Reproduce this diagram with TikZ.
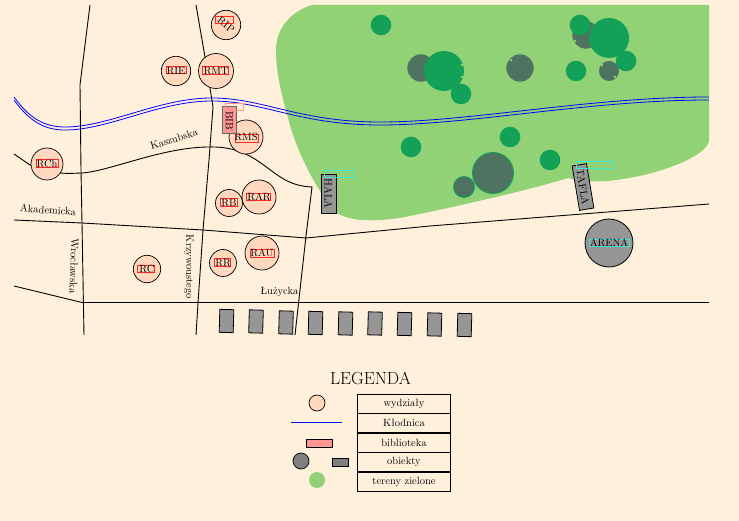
\documentclass[tikz,border=0pt]{standalone}
\usepackage{tikz}
\usetikzlibrary{positioning}
\definecolor{tlo}{HTML}{FFF0DC}
\definecolor{trawa}{HTML}{92D277}
\definecolor{drzewo}{HTML}{13A158}
\definecolor{ciemne}{HTML}{4E7360}
\definecolor{wydzial}{HTML}{FFD8BE}
\definecolor{szary}{HTML}{969696}
\definecolor{rozowy}{HTML}{FF9696}
\definecolor{morski}{HTML}{40E8D0}
\begin{document}
\begin{tikzpicture}[x=1pt,y=-1pt,
		font=\fontsize{10.5}{12}\selectfont,
		road/.style={draw,line width=0.9pt},
		river/.style={draw=blue,line width=0.8pt},
		faculty/.style={circle,draw,fill=wydzial,inner sep=0pt,line width=0.7pt},
		tag/.style={draw=red!85,line width=0.5pt,inner sep=0pt},
		tagcyan/.style={draw=morski,line width=0.7pt,inner sep=0pt},
		building/.style={draw,fill=szary,inner sep=0pt,line width=0.8pt},
		streetname/.style={inner sep=0pt},
		legendrow/.style={draw,line width=0.8pt,minimum width=93pt,minimum height=18.7pt,inner sep=0pt}
		]
	\useasboundingbox (0,0) rectangle (739,521);
	\fill[tlo] (0,0) rectangle (739,521);

	% tereny zielone
	\fill[trawa] (312,5) -- (709,5) -- (709,140)
		.. controls (709,155) and (660,176) .. (607,181)
		.. controls (590,182) and (578,181) .. (568,178)
		.. controls (530,190) and (450,208) .. (400,218)
		.. controls (370,222) and (350,221) .. (337,213)
		.. controls (320,195) and (300,160) .. (290,125)
		.. controls (280,90) and (276,70) .. (276,50)
		.. controls (276,25) and (295,10) .. (312,5) -- cycle;
	\foreach \x/\y/\r in {493/173/21,464/187/11}
		\fill[drzewo] (\x,\y) circle[radius=\r];
	\foreach \x/\y/\r in {421/68/13.7,520/68/13.7,586/35/13.7,609/71/10,493/173/20,464/187/10}
		\fill[ciemne] (\x,\y) circle[radius=\r];
	\foreach \x/\y/\r in {381/25/10.3,444/71/20,461/94/10.3,580/25/10.3,609/38/20,626/61/10.3,576/71/10.3,510/137/10.3,411/147/10.3,550/160/10.3}
		\fill[drzewo] (\x,\y) circle[radius=\r];
	\foreach \x/\y in {462/65,462/77,511/60,602/65,615/77,575/41}
		\fill[trawa] (\x,\y) circle[radius=1.3];

	% Klodnica
	\foreach \s in {0,3}
		\draw[river,yshift=\s] (14,100) .. controls (30,122) and (45,130) .. (65,130)
			.. controls (110,130) and (160,100) .. (215,101)
			.. controls (265,102) and (300,125) .. (380,125)
			.. controls (470,125) and (590,100) .. (709,100);

	% ulice
	\draw[road] (90,5) -- (80,85) -- (81,170) -- (82,223) -- (84,335);
	\draw[road] (196,5) -- (205,57) -- (210,88) -- (213,107) -- (209,160) -- (203,230) -- (198,303) -- (196,335);
	\draw[road] (14,154) -- (30,165) -- (47,170) .. controls (60,175) and (75,173) .. (82,173)
		.. controls (110,171) and (160,148) .. (207,147)
		.. controls (235,146) and (250,155) .. (265,166)
		.. controls (280,177) and (290,186) .. (312,187) -- (306,236) -- (295,335);
	\draw[road] (14,220) -- (82,223) -- (203,230) -- (306,238) -- (430,226) -- (709,204);
	\draw[road] (14,286) -- (82,302.5) -- (709,302.5);

	% wydzialy
	\node[faculty,minimum size=29.4pt] (RIP) at (226,25) {};
	\node[tag,minimum width=18pt,minimum height=7pt] (tagRIP) at (224,19.5) {};
	\node[rotate=-38,inner sep=0pt] (txtRIP) at (RIP) {RIP};
	\node[faculty,minimum size=29.4pt] (RIE) at (176,71) {};
	\node[tag,minimum width=20pt,minimum height=7pt] (tagRIE) at (176,69.5) {};
	\node[inner sep=0pt] (txtRIE) at (RIE) {RIE};
	\node[faculty,minimum size=35pt] (RMT) at (216,71) {};
	\node[tag,minimum width=26pt,minimum height=8pt] (tagRMT) at (215,70) {};
	\node[inner sep=0pt] (txtRMT) at (RMT) {RMT};
	\node[faculty,minimum size=34pt] (RMS) at (246,137) {};
	\node[tag,minimum width=23pt,minimum height=7.6pt] (tagRMS) at (246.5,138) {};
	\node[inner sep=0pt] (txtRMS) at (RMS) {RMS};
	\node[faculty,minimum size=32pt] (RCh) at (47,164) {};
	\node[tag,minimum width=22pt,minimum height=8pt] (tagRCh) at (47,163) {};
	\node[inner sep=0pt] (txtRCh) at (RCh) {RCh};
	\node[faculty,minimum size=27pt] (RB) at (229,203) {};
	\node[tag,minimum width=17pt,minimum height=7.6pt] (tagRB) at (228.5,202) {};
	\node[inner sep=0pt] (txtRB) at (RB) {RB};
	\node[faculty,minimum size=34pt] (RAR) at (259,197) {};
	\node[tag,minimum width=24pt,minimum height=7.4pt] (tagRAR) at (258,196.5) {};
	\node[inner sep=0pt] (txtRAR) at (RAR) {RAR};
	\node[faculty,minimum size=34pt] (RAU) at (262,253) {};
	\node[tag,minimum width=24pt,minimum height=7.6pt] (tagRAU) at (262,253) {};
	\node[inner sep=0pt] (txtRAU) at (RAU) {RAU};
	\node[faculty,minimum size=27pt] (RR) at (223,263) {};
	\node[tag,minimum width=16pt,minimum height=7.6pt] (tagRR) at (222,262) {};
	\node[inner sep=0pt] (txtRR) at (RR) {RR};
	\node[faculty,minimum size=27.4pt] (RC) at (147,269) {};
	\node[tag,minimum width=16.6pt,minimum height=7.4pt] (tagRC) at (146,269) {};
	\node[inner sep=0pt] (txtRC) at (RC) {RC};

	% biblioteka
	\node[draw=black!60,fill=rozowy,line width=1pt,minimum width=14pt,minimum height=27pt,inner sep=0pt] (BIBbox) at (229.5,120.5) {};
	\node[rotate=-90,inner sep=0pt] (BIB) at (BIBbox) {BIB};
	\node[draw=rozowy,line width=0.9pt,minimum width=18pt,minimum height=7pt,inner sep=0pt] (tagBIB) at (234,106.5) {};

	% obiekty
	\node[building,minimum width=15pt,minimum height=39pt] (HALAbox) at (328.5,193.5) {};
	\node[rotate=-90,inner sep=0pt] (HALA) at (HALAbox) {HALA};
	\node[tagcyan,minimum width=29pt,minimum height=7pt] (tagHALA) at (338.5,173.5) {};
	\node[building,rotate=-80.5,minimum width=45pt,minimum height=14.5pt] (TAFLA) at (583,187) {TAFLA};
	\node[tagcyan,minimum width=36pt,minimum height=7pt] (tagTAFLA) at (594,164.5) {};
	\node[building,circle,minimum size=48pt] (ARENA) at (609,243) {};
	\node[tagcyan,minimum width=40pt,minimum height=7pt] (tagARENA) at (609,242.5) {};
	\node[inner sep=0pt] (txtARENA) at (ARENA) {ARENA};
	\foreach \x/\y [count=\i] in {226.5/321,256/321.5,286/322.5,315.5/323,345.5/323.5,375/323.5,404.5/324,434.5/324.5,464.5/325}
		\node[building,rotate=-1.5,minimum width=14pt,minimum height=23pt] (hall\i) at (\x,\y) {};

	% nazwy ulic
	\node[streetname,rotate=17] (Kaszubska) at (174,139) {Kaszubska};
	\node[streetname,rotate=-4] (Akademicka) at (48,210) {Akademicka};
	\node[streetname,rotate=-92] (Wroclawska) at (74,266) {Wroc\l{}awska};
	\node[streetname,rotate=-90] (Krzywoustego) at (189,267) {Krzywoustego};
	\node[streetname] (Luzycka) at (279.5,291.5) {\L{}u\.zycka};

	% legenda
	\node[inner sep=0pt,font=\fontsize{17.5}{20}\selectfont] (legendtitle) at (370.5,378) {LEGENDA};
	\node[legendrow] (row1) at (404,403.7) {wydzia\l{}y};
	\node[legendrow,below=0pt of row1] (row2) {K\l{}odnica};
	\node[legendrow,below=0pt of row2] (row3) {biblioteka};
	\node[legendrow,below=0pt of row3] (row4) {obiekty};
	\node[legendrow,below=0pt of row4] (row5) {tereny zielone};
	\node[faculty,minimum size=16pt] (symfaculty) at (317,403) {};
	\coordinate (riverL) at (291,422);
	\coordinate (riverR) at (342,422);
	\draw[river] (riverL) -- (riverR);
	\node[draw,fill=rozowy,line width=0.8pt,minimum width=26pt,minimum height=8pt,inner sep=0pt] (symlib) at (319,443) {};
	\node[draw,circle,fill=black!50,line width=0.7pt,minimum size=16pt,inner sep=0pt] (symarena) at (301,461) {};
	\node[draw,fill=black!50,line width=0.8pt,minimum width=16pt,minimum height=8.4pt,inner sep=0pt] (symhall) at (340,462.5) {};
	\node[circle,fill=trawa,minimum size=16pt,inner sep=0pt] (symgreen) at (317,480) {};
\end{tikzpicture}
\end{document}
